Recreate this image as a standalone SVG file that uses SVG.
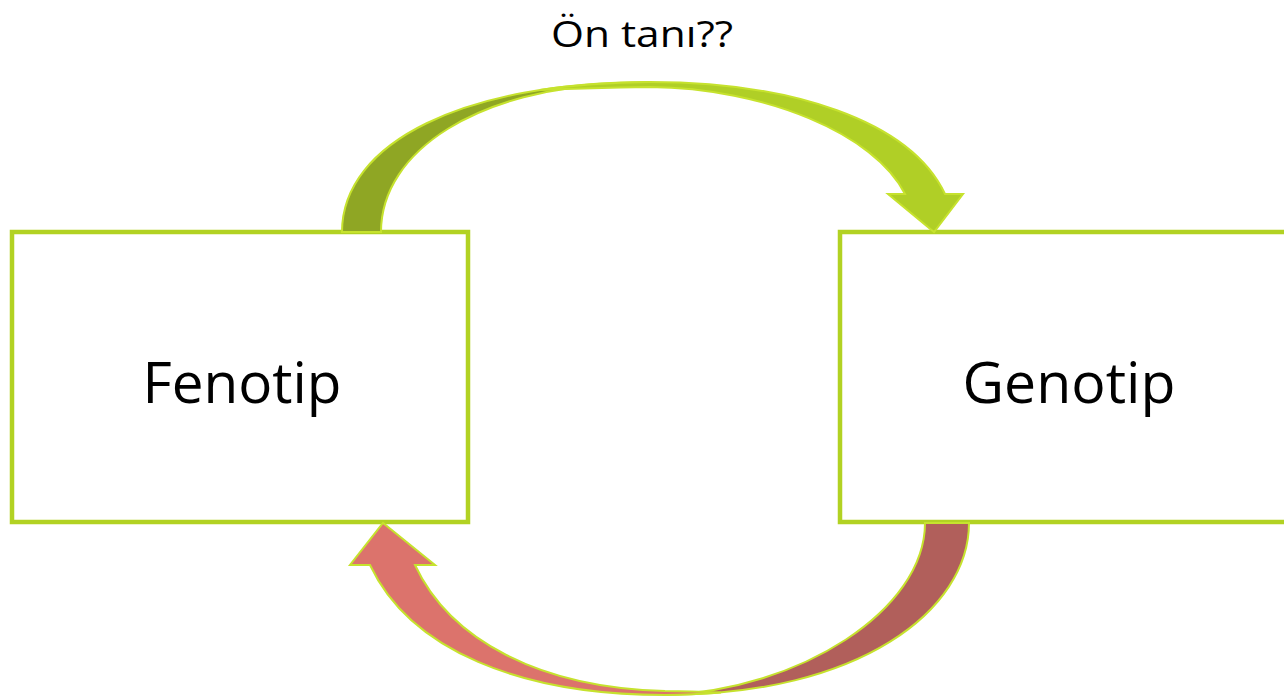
<svg xmlns="http://www.w3.org/2000/svg" width="1284" height="699" viewBox="0 0 1284 699">
  <style>
    .box { fill: #ffffff; stroke: #b2d223; stroke-width: 4.5; }
    .lbl { font-family: "Open Sans", "Liberation Sans", sans-serif; fill: #000000; text-anchor: middle; }
    .big { font-size: 57px; }
    .small { font-size: 37px; }
    .arr { stroke: #c6e22e; stroke-width: 2; stroke-linejoin: miter; }
    .gdark { fill: #8fa624; }
    .glight { fill: #b0cf26; }
    .rdark { fill: #b15f5b; }
    .rlight { fill: #dc736c; }
  </style>
  <rect width="1284" height="699" fill="#ffffff"/>
  <g id="node-fenotip">
    <rect class="box" x="12" y="232" width="456" height="290"/>
    <text class="lbl big" x="242" y="403" textLength="199" lengthAdjust="spacingAndGlyphs">Fenotip</text>
  </g>
  <g id="node-genotip">
    <rect class="box" x="840" y="232" width="460" height="290"/>
    <text class="lbl big" x="1069" y="403" textLength="213" lengthAdjust="spacingAndGlyphs">Genotip</text>
  </g>
  <g id="connectors">
    <g id="arrow-top">
      <path class="arr gdark" d="M342,232 C342,142 465,82 650,82 L620,84 C480,88 381,150 381,232 Z"/>
      <path class="arr glight" d="M540,90 Q590,82.5 650,82 C790,82 910,120 945,194 L963,194 L934,232 L888,194 L905,194 C875,134 765,88 650,87 Q590,88 540,90 Z"/>
    </g>
    <g id="arrow-bottom">
      <path class="arr rdark" d="M925,523 L969,523 C969,610 860,695 665,695 C800,690 925,610 925,523 Z"/>
      <path class="arr rlight" d="M721,692.6 Q690,695 665,695 C520,695 410,650 370,565 L350,565 L383,523 L435,565 L415,565 C450,640 540,688 665,691 Q690,691 721,692.6 Z"/>
    </g>
    <text id="label-on-tani" class="lbl small" x="642" y="47" textLength="182" lengthAdjust="spacingAndGlyphs">Ön tanı??</text>
  </g>
</svg>
